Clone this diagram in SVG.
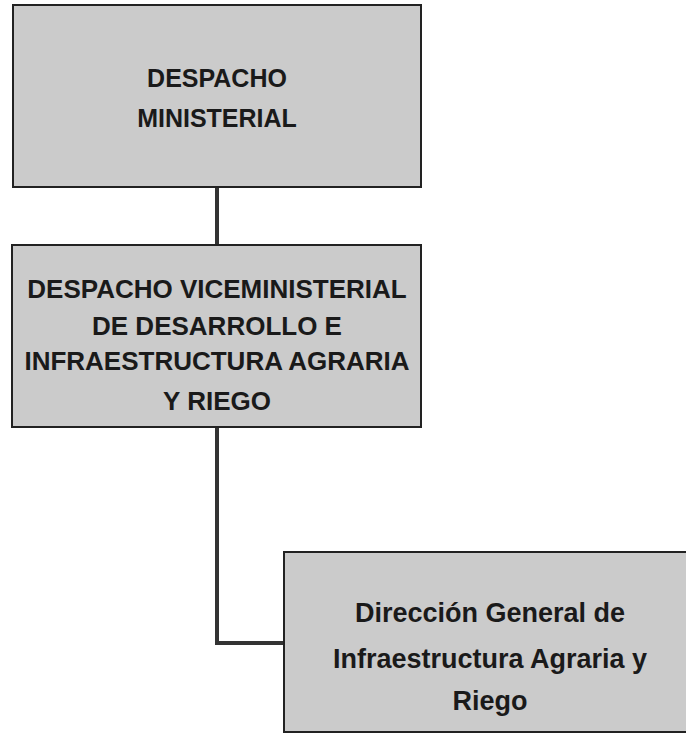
<svg xmlns="http://www.w3.org/2000/svg" width="686" height="734" viewBox="0 0 686 734">
<style>
.box{fill:#cbcbcb;stroke:#222;stroke-width:2}
.t{font-family:"Liberation Sans",Arial,sans-serif;font-weight:bold;fill:#1a1a1a;text-anchor:middle}
.c{fill:none;stroke:#333;stroke-width:4}
</style>
<rect width="686" height="734" fill="#ffffff"/>
<g id="connectors">
<line class="c" x1="217" y1="187" x2="217" y2="245"/>
<polyline class="c" points="217,427 217,643 284,643"/>
</g>
<g id="despacho-ministerial">
<rect class="box" x="13" y="5" width="408" height="182"/>
<text class="t" x="217" y="87" font-size="25">DESPACHO</text>
<text class="t" x="217" y="127" font-size="25">MINISTERIAL</text>
</g>
<g id="despacho-viceministerial">
<rect class="box" x="12" y="245" width="409" height="182"/>
<text class="t" x="217" y="298" font-size="26">DESPACHO VICEMINISTERIAL</text>
<text class="t" x="217" y="335" font-size="26">DE DESARROLLO E</text>
<text class="t" x="217" y="370" font-size="26">INFRAESTRUCTURA AGRARIA</text>
<text class="t" x="217" y="410" font-size="26">Y RIEGO</text>
</g>
<g id="direccion-general">
<rect class="box" x="284" y="552" width="413" height="180"/>
<text class="t" x="490" y="622" font-size="27">Dirección General de</text>
<text class="t" x="490" y="668" font-size="27">Infraestructura Agraria y</text>
<text class="t" x="490" y="710" font-size="27">Riego</text>
</g>
</svg>
